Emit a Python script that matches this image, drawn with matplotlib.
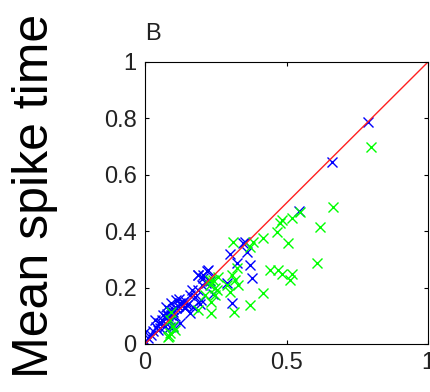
import matplotlib
matplotlib.use("Agg")
import matplotlib.pyplot as plt

plt.rcParams['font.family'] = ['Liberation Sans', 'DejaVu Sans']

# blue cluster (close to the diagonal)
blue_x = [0.789, 0.660, 0.544, 0.353, 0.347, 0.300, 0.324, 0.371, 0.359,
          0.377, 0.306, 0.289, 0.224, 0.206, 0.200, 0.218, 0.189, 0.230,
          0.000, 0.005, 0.022, 0.040, 0.058, 0.075, 0.093, 0.111, 0.123,
          0.134, 0.140, 0.093, 0.111, 0.075, 0.064, 0.034, 0.052, 0.158,
          0.187, 0.170, 0.199, 0.187, 0.205, 0.217, 0.158, 0.099, 0.123,
          0.241, 0.165, 0.177, 0.194, 0.141, 0.124, 0.100, 0.077, 0.088,
          0.010, 0.030, 0.045, 0.060, 0.080, 0.100, 0.115, 0.130, 0.145,
          0.120, 0.105, 0.090, 0.050, 0.070, 0.085, 0.150]
blue_y = [0.787, 0.645, 0.473, 0.363, 0.357, 0.320, 0.286, 0.280, 0.327,
          0.233, 0.144, 0.215, 0.262, 0.245, 0.209, 0.260, 0.243, 0.225,
          0.044, 0.008, 0.032, 0.061, 0.073, 0.091, 0.103, 0.127, 0.144,
          0.150, 0.127, 0.144, 0.156, 0.132, 0.103, 0.085, 0.056, 0.174,
          0.191, 0.132, 0.156, 0.245, 0.233, 0.215, 0.109, 0.061, 0.073,
          0.178, 0.190, 0.166, 0.142, 0.130, 0.142, 0.124, 0.107, 0.059,
          0.020, 0.045, 0.050, 0.085, 0.100, 0.115, 0.135, 0.140, 0.150,
          0.160, 0.100, 0.080, 0.075, 0.065, 0.120, 0.140]

# green cluster (mostly below the diagonal)
green_x = [0.800, 0.665, 0.618, 0.607, 0.548, 0.518, 0.483, 0.477, 0.465,
           0.506, 0.416, 0.383, 0.312, 0.371, 0.324, 0.306, 0.318, 0.330,
           0.442, 0.471, 0.483, 0.518, 0.512, 0.418, 0.371, 0.315, 0.241,
           0.230, 0.253, 0.247, 0.212, 0.300, 0.093, 0.087, 0.081, 0.105,
           0.228, 0.246, 0.234, 0.234, 0.187, 0.258, 0.289, 0.090, 0.100,
           0.085]
green_y = [0.700, 0.487, 0.416, 0.286, 0.469, 0.446, 0.440, 0.428, 0.398,
           0.357, 0.377, 0.363, 0.363, 0.345, 0.268, 0.245, 0.227, 0.209,
           0.262, 0.262, 0.250, 0.250, 0.227, 0.180, 0.138, 0.115, 0.227,
           0.209, 0.191, 0.174, 0.174, 0.185, 0.115, 0.085, 0.026, 0.050,
           0.227, 0.198, 0.150, 0.109, 0.121, 0.239, 0.209, 0.040, 0.065,
           0.030]

x_ticks = [0, 0.5, 1]
x_tick_labels = ['0', '0.5', '1']
y_ticks = [0, 0.2, 0.4, 0.6, 0.8, 1]
y_tick_labels = ['0', '0.2', '0.4', '0.6', '0.8', '1']

fig = plt.figure(figsize=(4.3, 3.92), dpi=100)
ax = fig.add_axes([145 / 430, 1 - 344 / 392, 283 / 430, 282 / 392])

ax.plot(blue_x, blue_y, 'x', color='#0000ff', markersize=7.5, mew=1)
ax.plot(green_x, green_y, 'x', color='#00ff00', markersize=7.5, mew=1)
ax.plot([0, 1], [0, 1], color='#ff2020', lw=1)

ax.set_xlim(0, 1)
ax.set_ylim(0, 1)
ax.set_xticks(x_ticks)
ax.set_xticklabels(x_tick_labels)
ax.set_yticks(y_ticks)
ax.set_yticklabels(y_tick_labels)
ax.tick_params(direction='in', length=3, width=0.8, top=True, right=True,
               labelsize=17, pad=6, labelcolor='#222222')
for sp in ax.spines.values():
    sp.set_linewidth(0.8)

fig.text(145 / 430, 1 - 40 / 392, 'B', fontsize=17, va='baseline', ha='left',
         color='#222222')
fig.text(34.7 / 430, 1 - 196 / 392, 'Mean spike time', fontsize=36,
         rotation=90, ha='center', va='center')

fig.savefig('out.png', dpi=100)
